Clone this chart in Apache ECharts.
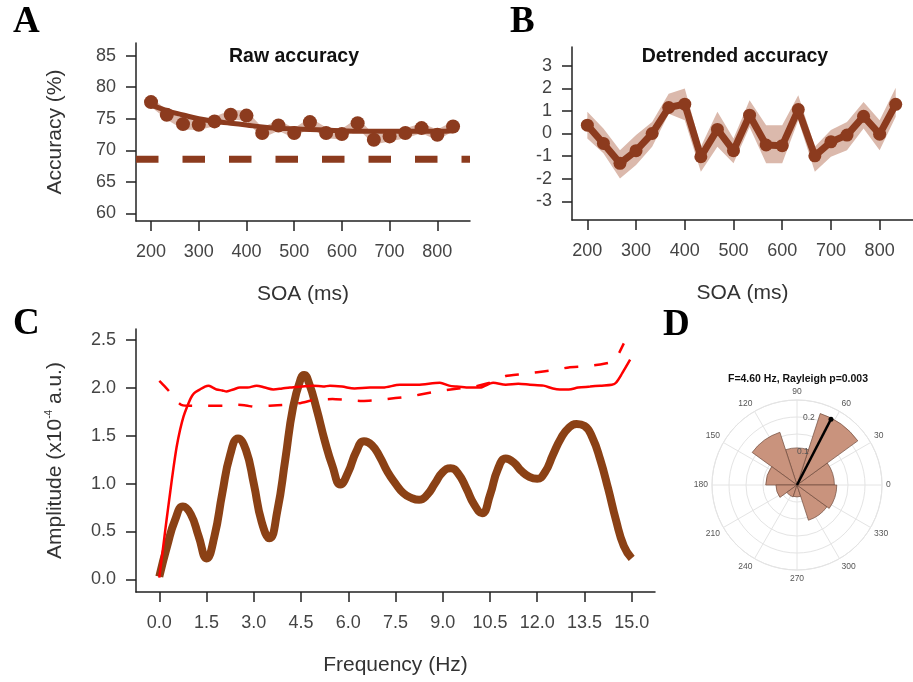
<!DOCTYPE html>
<html>
<head>
<meta charset="utf-8">
<title>Accuracy and spectrum</title>
<script src="https://cdn.jsdelivr.net/npm/echarts@6/dist/echarts.min.js"></script>
<style>
  html, body { margin: 0; padding: 0; background: #fff; }
  #chart { width: 913px; height: 682px; }
</style>
</head>
<body>
<div id="chart"></div>
<script>
// ---- data ----
const soa = [200, 233, 267, 300, 333, 367, 400, 433, 467, 500, 533, 567, 600, 633, 667, 700, 733, 767, 800, 833];
const soaTicks = [200, 300, 400, 500, 600, 700, 800];

// A: raw accuracy (%)
const rawAcc = [77.64, 75.63, 74.15, 74.05, 74.58, 75.63, 75.5, 72.73, 73.94, 72.73, 74.47, 72.73, 72.57, 74.3, 71.67, 72.2, 72.73, 73.52, 72.46, 73.78];
const rawHi = [78.4, 76.4, 75.0, 74.9, 75.3, 76.4, 76.3, 73.6, 74.8, 73.5, 75.2, 73.6, 73.4, 75.1, 72.5, 73.0, 73.5, 74.3, 73.3, 74.6];
const rawLo = [76.9, 74.9, 73.3, 73.2, 73.8, 74.9, 74.7, 71.9, 73.1, 71.9, 73.7, 71.9, 71.7, 73.5, 70.9, 71.4, 71.9, 72.7, 71.6, 73.0];
const rawTrend = [77.2, 76.3, 75.6, 75.0, 74.6, 74.3, 74.0, 73.7, 73.5, 73.4, 73.3, 73.2, 73.1, 73.0, 73.0, 73.0, 73.0, 73.0, 73.0, 73.1];
const chanceLevel = 68.6;
const accTicks = [60, 65, 70, 75, 80, 85];

// B: detrended accuracy
const detAcc = [0.37, -0.44, -1.32, -0.76, 0.0, 1.15, 1.3, -1.03, 0.18, -0.76, 0.81, -0.51, -0.54, 1.06, -0.99, -0.37, -0.07, 0.76, -0.03, 1.29];
const detHi = [0.96, 0.22, -0.74, -0.07, 0.51, 1.76, 1.99, -0.59, 0.96, -0.22, 1.47, 0.37, 0.37, 1.69, -0.59, 0.15, 0.51, 1.4, 0.59, 2.03];
const detLo = [-0.22, -0.88, -1.99, -1.4, -0.59, 0.88, 0.59, -1.69, -0.59, -1.32, 0.29, -1.32, -1.32, 0.59, -1.69, -1.03, -0.74, 0.22, -0.74, 0.74];
const detTicks = [-3, -2, -1, 0, 1, 2, 3];

// C: amplitude spectrum (x10^-4 a.u.)
const freq = [0, 0.25, 0.5, 0.75, 1, 1.25, 1.5, 1.75, 2, 2.25, 2.5, 2.75, 3, 3.25, 3.5, 3.75, 4, 4.25, 4.5, 4.6, 4.75, 5, 5.25, 5.5, 5.75, 6, 6.25, 6.5, 6.75, 7, 7.25, 7.5, 7.75, 8, 8.25, 8.5, 8.75, 9, 9.25, 9.5, 9.75, 10, 10.25, 10.5, 10.75, 11, 11.25, 11.5, 11.75, 12, 12.25, 12.5, 12.75, 13, 13.25, 13.5, 13.75, 14, 14.25, 14.5, 14.75, 15];
const amplitude = [0.03, 0.35, 0.62, 0.76, 0.68, 0.45, 0.22, 0.45, 0.9, 1.3, 1.47, 1.35, 1.0, 0.6, 0.43, 0.72, 1.25, 1.8, 2.1, 2.13, 2.05, 1.77, 1.45, 1.18, 0.99, 1.12, 1.33, 1.44, 1.4, 1.28, 1.12, 1.0, 0.9, 0.85, 0.83, 0.88, 1.0, 1.12, 1.16, 1.1, 0.95, 0.78, 0.69, 0.88, 1.15, 1.26, 1.22, 1.13, 1.07, 1.05, 1.12, 1.3, 1.47, 1.58, 1.62, 1.6, 1.48, 1.25, 0.95, 0.62, 0.35, 0.22];
const surrogateFreq = [0, 0.1, 0.23, 0.35, 0.44, 0.55, 0.66, 0.77, 0.87, 1.0, 1.1, 1.29, 1.45, 1.56, 1.7, 1.82, 2.0, 2.14, 2.35, 2.56, 2.8, 3.09, 3.35, 3.62, 3.9, 4.15, 4.5, 4.89, 5.2, 5.42, 5.8, 6.2, 6.69, 7.1, 7.64, 8.2, 8.91, 9.2, 9.44, 9.8, 10.18, 10.6, 11.0, 11.4, 11.77, 12.2, 12.5, 12.72, 13.0, 13.3, 13.68, 14.0, 14.37, 14.5, 14.7, 14.95];
const surrogate95 = [0.02, 0.28, 0.62, 0.92, 1.14, 1.38, 1.56, 1.7, 1.79, 1.89, 1.94, 1.98, 2.01, 2.02, 2.0, 1.98, 1.97, 1.96, 1.98, 2.0, 2.0, 2.02, 2.0, 1.98, 1.99, 2.0, 2.01, 2.02, 2.01, 2.02, 2.01, 1.99, 2.0, 2.0, 2.03, 2.03, 2.05, 2.02, 2.01, 2.0, 2.0, 2.05, 2.03, 2.04, 2.03, 2.02, 1.99, 1.98, 1.98, 2.0, 2.01, 2.02, 2.03, 2.05, 2.15, 2.29];
const corrFreq = [0, 0.15, 0.34, 0.5, 0.7, 1.0, 1.5, 2.0, 2.5, 2.8, 3.0, 3.5, 4.0, 4.5, 4.9, 5.5, 6.0, 6.5, 7.0, 7.5, 8.0, 8.5, 9.0, 9.5, 10.0, 10.5, 11.0, 11.5, 12.0, 12.5, 13.0, 13.5, 14.0, 14.3, 14.5, 14.75];
const corrected95 = [2.07, 2.02, 1.95, 1.87, 1.82, 1.81, 1.81, 1.81, 1.82, 1.81, 1.8, 1.81, 1.82, 1.84, 1.87, 1.88, 1.87, 1.86, 1.87, 1.89, 1.91, 1.94, 1.97, 1.99, 2.01, 2.05, 2.12, 2.14, 2.16, 2.18, 2.21, 2.22, 2.24, 2.26, 2.3, 2.46];
const freqTicks = [0, 1.5, 3, 4.5, 6, 7.5, 9, 10.5, 12, 13.5, 15];
const ampTicks = [0, 0.5, 1, 1.5, 2, 2.5];

// D: phase histogram at 4.60 Hz (36 degree bins, probability)
const binStart = [0, 36, 72, 108, 144, 180, 216, 252, 288, 324];
const binProb = [0.11, 0.221, 0.109, 0.163, 0.092, 0.062, 0.037, 0.035, 0.109, 0.117];
const meanAngle = 62.7;
const meanLength = 0.218;
const radiusTicks = [0.1, 0.2];

// ---- styles ----
const brown = '#8c3b1e';
const band = '#dbb9ac';
const sans = 'Liberation Sans';
const axisColor = '#222';
const labelStyle = { fontFamily: sans, fontSize: 18, color: '#444' };
const nameStyle = { fontFamily: sans, fontSize: 21, color: '#333' };

function xAxisFor(gridIndex, min, max, ticks, name, fmt) {
  return {
    gridIndex: gridIndex, type: 'value', min: min, max: max,
    axisLine: { onZero: false, lineStyle: { color: axisColor, width: 1.5 } },
    axisTick: { length: 10, customValues: ticks, lineStyle: { color: axisColor, width: 1.5 } },
    axisLabel: Object.assign({ customValues: ticks, margin: 22, formatter: fmt }, labelStyle),
    splitLine: { show: false },
    name: name, nameLocation: 'middle', nameGap: 63, nameTextStyle: nameStyle
  };
}

function yAxisFor(gridIndex, min, max, ticks, name, fmt, nameGap) {
  return {
    gridIndex: gridIndex, type: 'value', min: min, max: max,
    axisLine: { onZero: false, lineStyle: { color: axisColor, width: 1.5 } },
    axisTick: { length: 10, customValues: ticks, lineStyle: { color: axisColor, width: 1.5 } },
    axisLabel: Object.assign({ customValues: ticks, margin: 20, formatter: fmt }, labelStyle),
    splitLine: { show: false },
    name: name, nameLocation: 'middle', nameGap: nameGap,
    nameTextStyle: Object.assign({ rich: { sup: { fontFamily: sans, fontSize: 10, color: '#333', verticalAlign: 'top', lineHeight: 22 } } }, nameStyle)
  };
}

// shaded confidence band drawn as one polygon through the axis scales
function bandSeries(axisIndex, xs, lo, hi) {
  return {
    type: 'custom', xAxisIndex: axisIndex, yAxisIndex: axisIndex, silent: true, z: 1,
    data: xs.map((x, i) => [x, lo[i], hi[i]]),
    encode: { x: 0, y: [1, 2] },
    renderItem: function (params, api) {
      if (params.dataIndex !== 0) return;
      const pts = xs.map((x, i) => api.coord([x, hi[i]]));
      for (let i = xs.length - 1; i >= 0; i--) pts.push(api.coord([xs[i], lo[i]]));
      return { type: 'polygon', shape: { points: pts }, style: { fill: band } };
    }
  };
}

const pair = (xs, ys) => xs.map((x, i) => [x, ys[i]]);
const oneDecimal = v => v.toFixed(1);

const chart = echarts.init(document.getElementById('chart'));

const letter = { fontFamily: 'Liberation Serif', fontWeight: 'bold', fontSize: 37, color: '#000' };

const option = {
  animation: false,
  backgroundColor: '#fff',
  title: [
    { text: 'A', left: 13, top: 4, padding: 0, textStyle: letter },
    { text: 'B', left: 510, top: 4, padding: 0, textStyle: letter },
    { text: 'C', left: 13, top: 306, padding: 0, textStyle: letter },
    { text: 'D', left: 663, top: 307, padding: 0, textStyle: letter },
    { text: 'Raw accuracy', left: 294, top: 47, textAlign: 'center', padding: 0, textStyle: { fontFamily: sans, fontWeight: 'bold', fontSize: 19.5, color: '#111' } },
    { text: 'Detrended accuracy', left: 735, top: 47, textAlign: 'center', padding: 0, textStyle: { fontFamily: sans, fontWeight: 'bold', fontSize: 19.5, color: '#111' } },
    { text: 'F=4.60 Hz, Rayleigh p=0.003', left: 798, top: 374, textAlign: 'center', padding: 0, textStyle: { fontFamily: sans, fontWeight: 'bold', fontSize: 10.5, color: '#111' } }
  ],
  grid: [
    { left: 136, top: 43, width: 334, height: 178 },
    { left: 572, top: 47, width: 345, height: 173 },
    { left: 136, top: 329, width: 519, height: 263 }
  ],
  xAxis: [
    xAxisFor(0, 168.5, 868.5, soaTicks, 'SOA (ms)'),
    xAxisFor(1, 168.5, 868.5, soaTicks, 'SOA (ms)'),
    xAxisFor(2, -0.74, 15.74, freqTicks, 'Frequency (Hz)', oneDecimal)
  ],
  yAxis: [
    yAxisFor(0, 58.8, 87.0, accTicks, 'Accuracy (%)', undefined, 70),
    yAxisFor(1, -3.83, 3.83, detTicks, '', undefined, 60),
    yAxisFor(2, -0.13, 2.61, ampTicks, 'Amplitude (x10{sup|-4} a.u.)', oneDecimal, 70)
  ],
  polar: [
    { center: [797, 485], radius: 85 },
    { center: [797, 485], radius: 85 }
  ],
  angleAxis: [
    {
      polarIndex: 0, type: 'value', min: 0, max: 360, interval: 30, startAngle: 0, clockwise: false,
      axisLine: { lineStyle: { color: '#e4e4e4', width: 1 } },
      axisTick: { show: false },
      axisLabel: { fontFamily: sans, fontSize: 8.5, color: '#555', margin: 4 },
      splitLine: { lineStyle: { color: '#e4e4e4', width: 1 } }
    },
    { polarIndex: 1, type: 'value', min: 0, max: 360, startAngle: 80, clockwise: false, show: false }
  ],
  radiusAxis: [
    {
      polarIndex: 0, type: 'value', min: 0, max: 0.25, interval: 0.05,
      axisLine: { show: false }, axisTick: { show: false }, axisLabel: { show: false },
      splitLine: { lineStyle: { color: '#e4e4e4', width: 1 } }
    },
    {
      polarIndex: 1, type: 'value', min: 0, max: 0.25,
      axisLine: { show: false }, axisTick: { show: false }, splitLine: { show: false },
      axisLabel: { customValues: radiusTicks, margin: 0, align: 'center', verticalAlign: 'middle', fontFamily: sans, fontSize: 8.5, color: '#555' },
      z: 20
    }
  ],
  series: [
    // A
    bandSeries(0, soa, rawLo, rawHi),
    {
      type: 'line', xAxisIndex: 0, yAxisIndex: 0, showSymbol: false, z: 2,
      data: [[168.5, chanceLevel], [868.5, chanceLevel]],
      lineStyle: { color: brown, width: 7, type: [22.5, 24] }
    },
    {
      type: 'line', xAxisIndex: 0, yAxisIndex: 0, showSymbol: false, smooth: true, z: 3,
      data: pair(soa, rawTrend), lineStyle: { color: brown, width: 5 }
    },
    {
      type: 'scatter', xAxisIndex: 0, yAxisIndex: 0, symbolSize: 14, z: 4,
      data: pair(soa, rawAcc), itemStyle: { color: brown, opacity: 1 }
    },
    // B
    bandSeries(1, soa, detLo, detHi),
    {
      type: 'line', xAxisIndex: 1, yAxisIndex: 1, symbol: 'circle', symbolSize: 13, z: 3,
      data: pair(soa, detAcc), lineStyle: { color: brown, width: 7 }, itemStyle: { color: brown }
    },
    // C
    {
      type: 'line', xAxisIndex: 2, yAxisIndex: 2, showSymbol: false, smooth: true, z: 2,
      data: pair(freq, amplitude), lineStyle: { color: '#8b4115', width: 8 }
    },
    {
      type: 'line', xAxisIndex: 2, yAxisIndex: 2, showSymbol: false, smooth: 0.3, z: 3,
      data: pair(surrogateFreq, surrogate95), lineStyle: { color: '#ff0000', width: 2.5 }
    },
    {
      type: 'line', xAxisIndex: 2, yAxisIndex: 2, showSymbol: false, smooth: 0.15, z: 3,
      data: pair(corrFreq, corrected95), lineStyle: { color: '#ff0000', width: 2.5, type: [14, 16] }
    },
    // D
    {
      type: 'custom', coordinateSystem: 'polar', polarIndex: 0, z: 5, silent: true,
      data: binStart.map((a, i) => [binProb[i], a, a + 36]),
      renderItem: function (params, api) {
        const c = api.coord([0, 0]);
        const p = api.coord([api.value(0), api.value(1)]);
        const r = Math.hypot(p[0] - c[0], p[1] - c[1]);
        return {
          type: 'sector',
          shape: { cx: c[0], cy: c[1], r0: 0, r: r, startAngle: -api.value(2) * Math.PI / 180, endAngle: -api.value(1) * Math.PI / 180, clockwise: true },
          style: { fill: '#c9937d', stroke: '#6f4a3c', lineWidth: 0.7 }
        };
      }
    },
    {
      type: 'line', coordinateSystem: 'polar', polarIndex: 0, z: 6,
      data: [[0, meanAngle], [meanLength, meanAngle]],
      symbol: 'circle', symbolSize: (v, p) => (p.dataIndex ? 5 : 0),
      lineStyle: { color: '#000', width: 2.5 }, itemStyle: { color: '#000' }
    }
  ]
};

chart.setOption(option);
</script>
</body>
</html>
